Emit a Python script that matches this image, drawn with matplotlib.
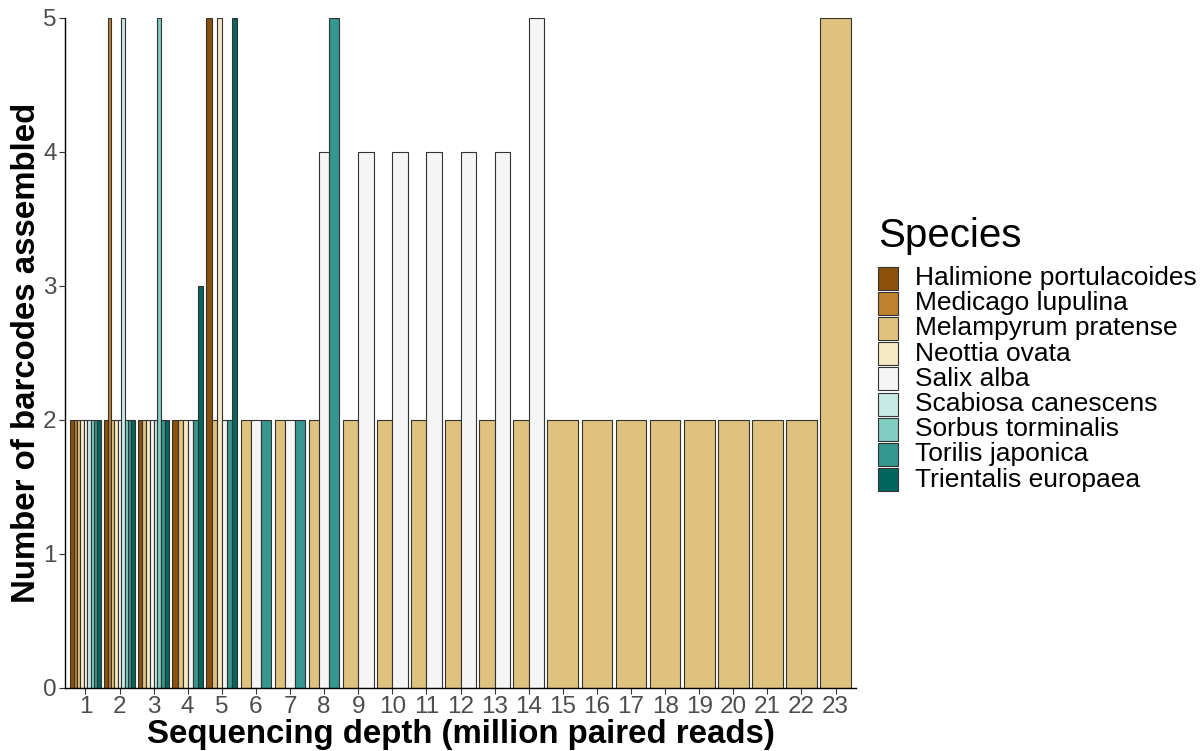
import matplotlib
matplotlib.use("Agg")
import matplotlib.pyplot as plt
from matplotlib.patches import Rectangle

plt.rcParams['font.family'] = ['Liberation Sans', 'DejaVu Sans']

depths = list(range(1, 24))
species = ["Halimione portulacoides", "Medicago lupulina", "Melampyrum pratense",
           "Neottia ovata", "Salix alba", "Scabiosa canescens", "Sorbus torminalis",
           "Torilis japonica", "Trientalis europaea"]
colors = ["#8C510A", "#BF812D", "#DFC27D", "#F6E8C3", "#F5F5F5",
          "#C7EAE5", "#80CDC1", "#35978F", "#01665E"]

N = None
halimione = [2, 2, 2, 2, 5] + [N] * 18
medicago = [2, 5] + [N] * 21
melampyrum = [2] * 22 + [5]
neottia = [2, 2, 2, 2, 5] + [N] * 18
salix = [2, 2, 2, 2, 2, 2, 2, 4, 4, 4, 4, 4, 4, 5] + [N] * 9
scabiosa = [2, 5, 2] + [N] * 20
sorbus = [2, 2, 5] + [N] * 20
torilis = [2, 2, 2, 2, 2, 2, 2, 5] + [N] * 15
trientalis = [2, 2, 2, 3, 5] + [N] * 18

values = [halimione, medicago, melampyrum, neottia, salix, scabiosa, sorbus, torilis, trientalis]

W, H = 1201, 751
fig = plt.figure(figsize=(W / 100, H / 100), dpi=100)
ax = fig.add_axes([65 / W, 1 - 688 / H, (856 - 65) / W, (688 - 18) / H])

group_w = 0.9
for di, d in enumerate(depths):
    present = [si for si in range(len(species)) if values[si][di] is not None]
    n = len(present)
    bw = group_w / n
    for k, si in enumerate(present):
        xc = d - group_w / 2 + (k + 0.5) * bw
        ax.bar(xc, values[si][di], width=bw, color=colors[si],
               edgecolor="#333333", linewidth=0.8, zorder=2)

ax.set_xlim(0.4, 23.6)
ax.set_ylim(0, 5)
ax.set_xticks(depths)
ax.set_xticklabels([str(d) for d in depths])
ax.set_yticks([0, 1, 2, 3, 4, 5])
for s in ["top", "right"]:
    ax.spines[s].set_visible(False)
for s in ["left", "bottom"]:
    ax.spines[s].set_color("black")
    ax.spines[s].set_linewidth(1.0)
ax.tick_params(axis="both", length=4, width=0.8, color="#333333",
               labelsize=17.5, labelcolor="#4D4D4D", pad=2)

ax.set_ylabel("Number of barcodes assembled", fontsize=23.8, fontweight="bold")
ax.yaxis.set_label_coords(-0.029, 0.5)
ax.set_xlabel("Sequencing depth (million paired reads)", fontsize=23.8, fontweight="bold")
ax.xaxis.set_label_coords(0.5, -0.047)

# legend
fig.text(878 / W, 1 - 236 / H, "Species", fontsize=29, va="center", ha="left")
for i, (sp, c) in enumerate(zip(species, colors)):
    yc = 278 + 25.2 * i
    fig.add_artist(Rectangle((878 / W, 1 - (yc + 11.5) / H), 20 / W, 23 / H,
                             transform=fig.transFigure, facecolor=c,
                             edgecolor="#333333", linewidth=0.8))
    fig.text(915 / W, 1 - yc / H, sp, fontsize=19, va="center", ha="left")

fig.savefig("out.png", dpi=100)
